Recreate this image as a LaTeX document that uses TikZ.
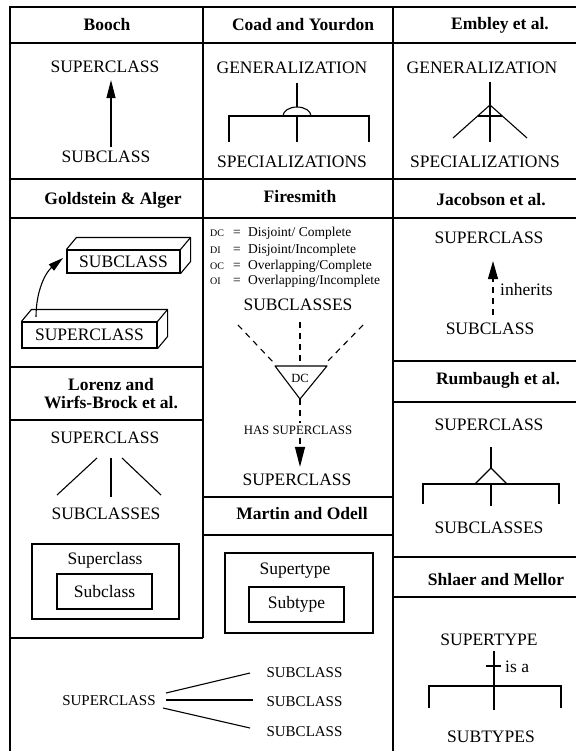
\documentclass[tikz,border=0pt]{standalone}
\usepackage{fontspec}
\setmainfont{Liberation Serif}
\usetikzlibrary{arrows.meta,calc}

\begin{document}
\begin{tikzpicture}[x=1pt,y=-1pt,
  frame/.style={line width=1.7pt},
  link/.style={line width=1.1pt},
  dashlink/.style={line width=1.1pt, dash pattern=on 6pt off 5pt},
  head/.style={font=\fontsize{17.5}{18}\selectfont\bfseries, inner sep=0pt},
  lbl/.style={font=\fontsize{17.5}{19}\selectfont, inner sep=0pt},
  lblsm/.style={font=\fontsize{15}{17}\selectfont, inner sep=0pt},
  legend/.style={font=\fontsize{13.5}{15}\selectfont, inner sep=0pt},
  abbr/.style={font=\fontsize{10}{11}\selectfont, inner sep=0pt},
  boxed/.style={draw, line width=1.1pt, inner sep=0pt},
  tip/.style={-{Triangle[length=18pt,width=9pt]}},
]
\useasboundingbox (0,0) rectangle (576,751);

% ---------- table frame ----------
\draw[frame] (576,7) -- (10,7) -- (10,751);
\draw[frame] (203,7) -- (203,638);
\draw[frame] (393,7) -- (393,751);
\draw[frame] (10,43) -- (576,43);
\draw[frame] (10,179) -- (576,179);
\draw[frame] (10,218) -- (576,218);
\draw[frame] (10,367) -- (203,367);
\draw[frame] (10,420) -- (203,420);
\draw[frame] (10,638) -- (203,638);
\draw[frame] (203,497) -- (393,497);
\draw[frame] (203,535) -- (393,535);
\draw[frame] (393,361) -- (576,361);
\draw[frame] (393,402) -- (576,402);
\draw[frame] (393,557) -- (576,557);
\draw[frame] (393,597) -- (576,597);

% ---------- headings ----------
\node[head] (hbooch) at (107,25) {Booch};
\node[head] (hcoad) at (303,25) {Coad and Yourdon};
\node[head] (hembley) at (500,25) {Embley et al.};
\node[head] (hgold) at (113,200) {Goldstein \& Alger};
\node[head] (hfire) at (300,197) {Firesmith};
\node[head] (hjac) at (491,200) {Jacobson et al.};
\node[head, align=center] (hlor) at (111,394) {Lorenz and\\Wirfs-Brock et al.};
\node[head] (hrum) at (498,380) {Rumbaugh et al.};
\node[head] (hmart) at (302,514) {Martin and Odell};
\node[head] (hshl) at (496,580) {Shlaer and Mellor};

% ---------- Booch ----------
\node[lbl] (bsup) at (105,67) {SUPERCLASS};
\node[lbl] (bsub) at (106,157) {SUBCLASS};
\draw[link, tip, shorten <=4pt, shorten >=7pt]
  ([xshift=5pt]bsub.north) -- ([xshift=6pt]bsup.south);

% ---------- Coad and Yourdon ----------
\node[lbl] (csup) at (292,68) {GENERALIZATION};
\node[lbl] (csub) at (292,162) {SPECIALIZATIONS};
\coordinate (cdome) at (297,116);
\draw[link] ([xshift=5pt]csup.south) ++(0,9) -- ($(cdome)+(0,-9)$);
\draw[link] ($(cdome)+(-14,0)$) arc[start angle=180, end angle=0, x radius=14pt, y radius=9pt];
\draw[link] (229,142) -- (229,116) -- (369,116) -- (369,142);
\draw[link] (cdome) -- (297,142);

% ---------- Embley et al. ----------
\node[lbl] (esup) at (482,68) {GENERALIZATION};
\node[lbl] (esub) at (485,162) {SPECIALIZATIONS};
\coordinate (eapex) at (490,105);
\draw[link] (490,82) -- (490,142);
\draw[link] (453,138) -- (eapex) -- (527,138);
\draw[link] (478,116) -- (502,116);

% ---------- Goldstein & Alger ----------
\node[lbl, boxed, minimum width=113pt, minimum height=23pt] (gsub) at (123.5,261.5) {SUBCLASS};
\draw[link, line join=round] (gsub.north west) -- ++(10,-12) -- ($(gsub.north east)+(10,-12)$)
  -- ($(gsub.south east)+(10,-12)$) -- (gsub.south east);
\draw[link] (gsub.north east) -- ++(10,-12);
\node[lbl, boxed, minimum width=135pt, minimum height=26pt] (gsup) at (89.5,335) {SUPERCLASS};
\draw[link, line join=round] (gsup.north west) -- ++(10,-12) -- ($(gsup.north east)+(10,-12)$)
  -- ($(gsup.south east)+(10,-12)$) -- (gsup.south east);
\draw[link] (gsup.north east) -- ++(10,-12);
\coordinate (gfrom) at (36,317);
\coordinate (gto) at (63,258);
\draw[link, -{Triangle[length=15pt,width=8pt]}] (gfrom) .. controls (36,290) and (46,272) .. (gto);

% ---------- Firesmith ----------
\node[abbr, anchor=base west] (kdc) at (210,236) {DC};
\node[legend, anchor=base] (qdc) at (237,236) {=};
\node[legend, anchor=base west] (tdc) at (248,236) {Disjoint/ Complete};
\node[abbr, anchor=base west] (kdi) at (210,253) {DI};
\node[legend, anchor=base] (qdi) at (237,253) {=};
\node[legend, anchor=base west] (tdi) at (248,253) {Disjoint/Incomplete};
\node[abbr, anchor=base west] (koc) at (210,269) {OC};
\node[legend, anchor=base] (qoc) at (237,269) {=};
\node[legend, anchor=base west] (toc) at (248,269) {Overlapping/Complete};
\node[abbr, anchor=base west] (koi) at (210,284) {OI};
\node[legend, anchor=base] (qoi) at (237,284) {=};
\node[legend, anchor=base west] (toi) at (248,284) {Overlapping/Incomplete};

\node[lbl] (fsubs) at (298,305) {SUBCLASSES};
\coordinate (ftl) at (275,366);
\coordinate (ftr) at (327,366);
\coordinate (fta) at (300,399);
\draw[link, line join=round] (ftl) -- (ftr) -- (fta) -- cycle;
\node[font=\fontsize{12.5}{14}\selectfont, inner sep=0pt] (fdc) at (300,378) {DC};
\draw[dashlink] (300,322) -- (300,366);
\draw[dashlink] (238,325) -- (273,362);
\draw[dashlink] (363,325) -- (327,362);
\node[font=\fontsize{12.8}{14}\selectfont, fill=white, inner sep=3pt] (fhas) at (298,430) {HAS SUPERCLASS};
\node[lbl] (fsup) at (297,480) {SUPERCLASS};
\draw[dashlink] (fta) -- (fhas.north -| fta);
\draw[dashlink, -{Triangle[length=20pt,width=10pt]}, shorten >=7pt] (fhas.south -| fta) -- (fsup.north -| fta);

% ---------- Jacobson et al. ----------
\node[lbl] (jsup) at (489,238) {SUPERCLASS};
\node[lbl] (jsub) at (490,329) {SUBCLASS};
\draw[dashlink, -{Triangle[length=18pt,width=10pt]}, shorten <=8pt, shorten >=17pt]
  ([xshift=3pt]jsub.north) -- ([xshift=4pt]jsup.south);
\node[lbl, anchor=west] (jinh) at (500,290) {inherits};

% ---------- Lorenz and Wirfs-Brock et al. ----------
\node[lbl] (lsup) at (105,438) {SUPERCLASS};
\node[lbl] (lsub) at (106,514) {SUBCLASSES};
\draw[link] (97,458) -- (57,495);
\draw[link] (111,458) -- (111,497);
\draw[link] (122,458) -- (161,495);
\node[boxed, minimum width=147pt, minimum height=75pt] (lbox) at (105.5,581.5) {};
\node[lbl] (lsupc) at (105,560) {Superclass};
\node[lbl, boxed, minimum width=95pt, minimum height=35pt] (lsubc) at (104.5,591.5) {Subclass};

% ---------- Martin and Odell ----------
\node[boxed, minimum width=148pt, minimum height=80pt] (mbox) at (299,593) {};
\node[lbl] (msup) at (295,571) {Supertype};
\node[lbl, boxed, minimum width=95pt, minimum height=35pt] (msub) at (296.5,604.5) {Subtype};

% ---------- fan-out notation ----------
\node[lblsm] (nsup) at (109,701) {SUPERCLASS};
\node[lblsm] (nsub1) at (304.5,673) {SUBCLASS};
\node[lblsm] (nsub2) at (304.5,702) {SUBCLASS};
\node[lblsm] (nsub3) at (304.5,732) {SUBCLASS};
\draw[link] (166,693) -- (250,673);
\draw[link] (166,700) -- (253,700);
\draw[link] (163,708) -- (250,728);

% ---------- Rumbaugh et al. ----------
\node[lbl] (rsup) at (489,425) {SUPERCLASS};
\node[lbl] (rsub) at (489,528) {SUBCLASSES};
\coordinate (rapex) at (491,468);
\draw[link] (491,447) -- (rapex);
\draw[link, line join=round] (475,484) -- (rapex) -- (507,484);
\draw[link] (423,504) -- (423,484) -- (559,484) -- (559,504);
\draw[link] (491,484) -- (491,506);

% ---------- Shlaer and Mellor ----------
\node[lbl] (ssup) at (489,640) {SUPERTYPE};
\node[lbl] (ssub) at (491,737) {SUBTYPES};
\draw[link] (494,651) -- (494,710);
\draw[link] (486,666) -- (501,666);
\node[lbl, anchor=west] (sisa) at (505,667) {is a};
\draw[link] (429,708) -- (429,686) -- (561,686) -- (561,708);

\end{tikzpicture}
\end{document}
